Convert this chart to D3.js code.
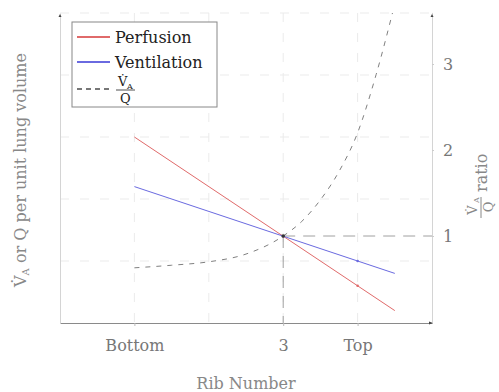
<!DOCTYPE html>
<html><head><meta charset="utf-8">
<script src="https://cdn.jsdelivr.net/npm/d3@7"></script>
<style>body{margin:0;background:#fff}svg{display:block}text{font-family:"DejaVu Serif",serif}</style>
</head><body><svg id="c" width="499" height="392"></svg>
<script>
// data
const xTickValues = [1, 3, 4];
const xTickLabels = ["Bottom", "3", "Top"];
const rightTickValues = [1, 2, 3];
const lineX = [1, 3, 4, 4.5];
const perfusion = [3.0, 1.4, 0.6, 0.2];
const ventilation = [2.2, 1.4, 1.0, 0.8];
const ratioX = [1, 1.5, 2, 2.5, 3, 3.25, 3.5, 3.75, 4, 4.25, 4.5];
const ratio = [0.63, 0.66, 0.70, 0.79, 1.0, 1.17, 1.42, 1.75, 2.2, 2.88, 3.7];
const seriesNames = ["Perfusion", "Ventilation"];

const svg = d3.select("#c");
const L = 60, R = 432, T = 13, B = 323;
const x = d3.scaleLinear().domain([0, 5]).range([L, R]);
const yL = d3.scaleLinear().domain([0, 5]).range([B, T]);
const yR = d3.scaleLinear().domain([0, 3.6]).range([322, 12.4]);

const defs = svg.append("defs");
defs.append("clipPath").attr("id", "clip").append("rect")
  .attr("x", L).attr("y", T).attr("width", R - L).attr("height", B - T);

// grid
const grid = svg.append("g").attr("stroke", "#ebebeb").attr("stroke-width", 1).attr("stroke-dasharray", "9,11");
grid.selectAll(".gv").data([1, 2, 3, 4]).join("line")
  .attr("x1", d => x(d)).attr("x2", d => x(d)).attr("y1", T).attr("y2", B);
grid.selectAll(".gh").data([1, 2, 3, 4, 5]).join("line")
  .attr("x1", L).attr("x2", R).attr("y1", d => yL(d)).attr("y2", d => yL(d));

// reference lines at ratio = 1, x = 3
svg.append("line").attr("x1", x(3)).attr("x2", R).attr("y1", yR(1)).attr("y2", yR(1))
  .attr("stroke", "#a0a0a0").attr("stroke-dasharray", "12,8");
svg.append("line").attr("x1", x(3)).attr("x2", x(3)).attr("y1", yR(1)).attr("y2", B)
  .attr("stroke", "#a0a0a0").attr("stroke-dasharray", "12,8");

// axes
const axX = svg.append("g").attr("transform", `translate(0,${B})`)
  .call(d3.axisBottom(x).tickValues(xTickValues).tickFormat((d, i) => xTickLabels[i]).tickSize(3).tickSizeOuter(0));
axX.select(".domain").attr("stroke", "#8a8a8a");
axX.selectAll(".tick line").attr("stroke", "#bbb");
axX.selectAll("text").attr("fill", "#777").attr("font-size", 16).attr("font-family", "DejaVu Serif").attr("dy", "1.35em");

const axL = svg.append("g").attr("transform", `translate(${L},0)`)
  .call(d3.axisLeft(yL).tickValues([]).tickSizeOuter(0));
axL.select(".domain").attr("stroke", "#d4d4d4");

const axR = svg.append("g").attr("transform", `translate(${R},0)`)
  .call(d3.axisRight(yR).tickValues(rightTickValues).tickFormat(d3.format("d")).tickSize(2).tickSizeOuter(0));
axR.select(".domain").attr("stroke", "#d4d4d4");
axR.selectAll(".tick line").attr("stroke", "#ccc");
axR.selectAll("text").attr("fill", "#777").attr("font-size", 16).attr("font-family", "DejaVu Serif").attr("x", 11);

// arrowheads
const arr = svg.append("g").attr("fill", "#444");
arr.append("path").attr("d", `M${L - 1.5},${T + 4}L${L},${T + 1}L${L + 1.5},${T + 4}Z`);
arr.append("path").attr("d", `M${R - 1.5},${T + 4}L${R},${T + 1}L${R + 1.5},${T + 4}Z`);
arr.append("path").attr("d", `M${R - 3},${B - 1.5}L${R + 1},${B}L${R - 3},${B + 1.5}Z`);

// series
const plot = svg.append("g").attr("clip-path", "url(#clip)");
const colors = ["#e06a6a", "#6a6ae0"];
[perfusion, ventilation].forEach((vals, k) => {
  const pts = lineX.map((d, i) => [d, vals[i]]);
  plot.append("path").datum(pts)
    .attr("d", d3.line().x(d => x(d[0])).y(d => yL(d[1])))
    .attr("fill", "none").attr("stroke", colors[k]).attr("stroke-width", 1);
  plot.selectAll(null).data(pts.slice(1, 3)).join("circle")
    .attr("cx", d => x(d[0])).attr("cy", d => yL(d[1])).attr("r", 1.3).attr("fill", colors[k]);
});
const rpts = ratioX.map((d, i) => [d, ratio[i]]);
plot.append("path").datum(rpts)
  .attr("d", d3.line().curve(d3.curveMonotoneX).x(d => x(d[0])).y(d => yR(d[1])))
  .attr("fill", "none").attr("stroke", "#808080").attr("stroke-width", 1).attr("stroke-dasharray", "5,6");
plot.append("circle").attr("cx", x(3)).attr("cy", yR(1)).attr("r", 1.8).attr("fill", "#333");

// axis titles
svg.append("text").attr("x", x(2.5)).attr("y", 389).attr("text-anchor", "middle")
  .attr("fill", "#888").attr("font-size", 16).text("Rib Number");

const lt = svg.append("text").attr("transform", "translate(26,170) rotate(-90)")
  .attr("text-anchor", "middle").attr("fill", "#888").attr("font-size", 16);
lt.append("tspan").text("V\u0307");
lt.append("tspan").attr("font-size", 10).attr("dy", 3).text("A");
lt.append("tspan").attr("dy", -3).text(" or Q per unit lung volume");

const rt = svg.append("g").attr("transform", "translate(482,182) rotate(-90)").attr("fill", "#888");
rt.append("text").attr("x", -28).attr("y", -5).attr("text-anchor", "middle").attr("font-size", 13).text("V\u0307");
rt.append("text").attr("x", -21).attr("y", -3).attr("text-anchor", "start").attr("font-size", 8).text("A");
rt.append("line").attr("x1", -36).attr("x2", -15).attr("y1", -1).attr("y2", -1).attr("stroke", "#888");
rt.append("text").attr("x", -25).attr("y", 11).attr("text-anchor", "middle").attr("font-size", 13).text("Q");
rt.append("text").attr("x", -10).attr("y", 5).attr("font-size", 16).text("ratio");

// legend
const lg = svg.append("g");
lg.append("rect").attr("x", 72).attr("y", 22).attr("width", 145).attr("height", 85)
  .attr("fill", "#fff").attr("stroke", "#888").attr("stroke-width", 1);
seriesNames.forEach((n, i) => {
  const yy = 37 + i * 25;
  lg.append("line").attr("x1", 77).attr("x2", 110).attr("y1", yy).attr("y2", yy)
    .attr("stroke", colors[i]).attr("stroke-width", 2);
  lg.append("text").attr("x", 115).attr("y", yy + 5.5).attr("font-size", 16).attr("fill", "#222").text(n);
});
lg.append("line").attr("x1", 77).attr("x2", 110).attr("y1", 89).attr("y2", 89)
  .attr("stroke", "#777").attr("stroke-width", 2).attr("stroke-dasharray", "5,4");
lg.append("text").attr("x", 118).attr("y", 86).attr("font-size", 13).attr("fill", "#222").text("V\u0307");
lg.append("text").attr("x", 127).attr("y", 89).attr("font-size", 8).attr("fill", "#222").text("A");
lg.append("line").attr("x1", 116).attr("x2", 135).attr("y1", 90).attr("y2", 90).attr("stroke", "#222").attr("stroke-width", 0.8);
lg.append("text").attr("x", 120).attr("y", 103).attr("font-size", 13).attr("fill", "#222").text("Q");
</script></body></html>
